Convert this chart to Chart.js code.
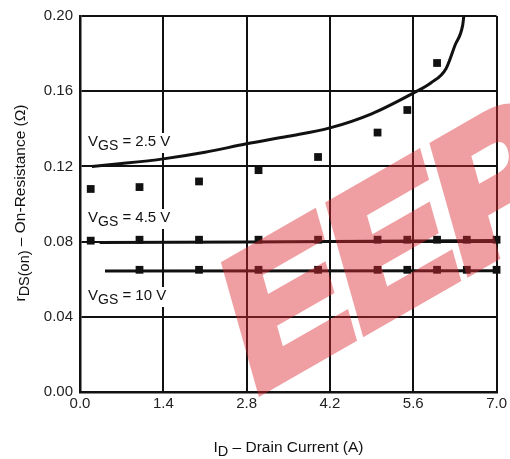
<!DOCTYPE html>
<html>
<head>
<meta charset="utf-8">
<script src="https://cdn.jsdelivr.net/npm/chart.js@4"></script>
<style>
  html, body { margin: 0; padding: 0; background: #fff; }
  #wrap { width: 510px; height: 459px; }
</style>
</head>
<body>
<div id="wrap"><canvas id="rdsChart" width="510" height="459"></canvas></div>
<script>
// tick labels
var xTicks = [ 0.0, 1.4, 2.8, 4.2, 5.6, 7.0 ];
var yTicks = [ 0.00, 0.04, 0.08, 0.12, 0.16, 0.20 ];

// VGS = 2.5 V fitted curve and measured points
var curve25X = [ 0.2, 0.7, 1.4, 2.1, 2.8, 3.5, 4.2, 4.9, 5.6, 5.9, 6.15, 6.3, 6.43, 6.45 ];
var curve25Y = [ 0.120, 0.1215, 0.124, 0.1275, 0.132, 0.136, 0.1405, 0.148, 0.159, 0.1645, 0.172, 0.1843, 0.195, 0.200 ];
var pts25X = [ 0.18, 1.0, 2.0, 3.0, 4.0, 5.0, 5.5, 6.0 ];
var pts25Y = [ 0.108, 0.109, 0.112, 0.118, 0.125, 0.138, 0.150, 0.175 ];

// VGS = 4.5 V
var curve45X = [ 0.33, 2.8, 7.0 ];
var curve45Y = [ 0.0795, 0.0798, 0.0806 ];
var pts45X = [ 0.18, 1.0, 2.0, 3.0, 4.0, 5.0, 5.5, 6.0, 6.5, 7.0 ];
var pts45Y = [ 0.0805, 0.081, 0.081, 0.081, 0.081, 0.081, 0.081, 0.081, 0.081, 0.081 ];

// VGS = 10 V
var curve10X = [ 0.42, 7.0 ];
var curve10Y = [ 0.0643, 0.0645 ];
var pts10X = [ 1.0, 2.0, 3.0, 4.0, 5.0, 5.5, 6.0, 6.5, 7.0 ];
var pts10Y = [ 0.065, 0.065, 0.065, 0.065, 0.065, 0.065, 0.065, 0.065, 0.065 ];

function toPoints ( xs, ys )
{
    return xs.map( function ( x, i ) { return { x: x, y: ys[ i ] }; } );
}

var FONT = '"Liberation Sans", Arial, sans-serif';

// text with subscripts: parts = [ [text, isSub], ... ]
function drawParts ( ctx, parts, x, y, size )
{
    var cx = x;
    parts.forEach( function ( p )
    {
        ctx.font = ( p[ 1 ] ? size - 1 : size ) + 'px ' + FONT;
        ctx.fillText( p[ 0 ], cx, p[ 1 ] ? y + 4 : y );
        cx += ctx.measureText( p[ 0 ] ).width;
    } );
    return cx - x;
}

function partsWidth ( ctx, parts, size )
{
    var w = 0;
    parts.forEach( function ( p )
    {
        ctx.font = ( p[ 1 ] ? size - 1 : size ) + 'px ' + FONT;
        w += ctx.measureText( p[ 0 ] ).width;
    } );
    return w;
}

var curveLabels = [
    { parts: [ [ 'V', false ], [ 'GS', true ], [ ' = 2.5 V', false ] ], x: 88, y: 146 },
    { parts: [ [ 'V', false ], [ 'GS', true ], [ ' = 4.5 V', false ] ], x: 88, y: 222 },
    { parts: [ [ 'V', false ], [ 'GS', true ], [ ' = 10 V', false ] ], x: 88, y: 300 }
];

var labelPlugin = {
    id: 'labels',
    beforeDatasetsDraw: function ( chart )
    {
        var ctx = chart.ctx;
        ctx.save();
        curveLabels.forEach( function ( l )
        {
            var w = partsWidth( ctx, l.parts, 15 );
            ctx.fillStyle = '#fff';
            ctx.fillRect( l.x - 2, l.y - 13, w + 4, 20 );
            ctx.fillStyle = '#111';
            ctx.textBaseline = 'alphabetic';
            drawParts( ctx, l.parts, l.x, l.y, 15 );
        } );
        ctx.restore();
    },
    afterDraw: function ( chart )
    {
        var ctx = chart.ctx;
        ctx.save();
        ctx.fillStyle = '#111';
        ctx.textBaseline = 'alphabetic';

        // x axis title
        var xParts = [ [ 'I', false ], [ 'D', true ], [ ' \u2013 Drain Current (A)', false ] ];
        var xw = partsWidth( ctx, xParts, 15.5 );
        drawParts( ctx, xParts, 288.5 - xw / 2, 452, 15.5 );

        // y axis title
        var yParts = [ [ 'r', false ], [ 'DS(on)', true ], [ ' \u2013 On-Resistance (\u03A9)', false ] ];
        var yw = partsWidth( ctx, yParts, 15.5 );
        ctx.translate( 25, 203 );
        ctx.rotate( -Math.PI / 2 );
        drawParts( ctx, yParts, -yw / 2, 0, 15.5 );
        ctx.restore();

        // watermark, drawn opaque off-screen then blended once
        var off = document.createElement( 'canvas' );
        off.width = chart.width;
        off.height = chart.height;
        var octx = off.getContext( '2d' );
        octx.fillStyle = 'rgb(220, 40, 50)';
        octx.strokeStyle = 'rgb(220, 40, 50)';
        octx.lineWidth = 12;
        octx.lineJoin = 'miter';
        octx.translate( 252, 394 );
        octx.rotate( -0.52 );
        octx.transform( 1, 0, -0.25, 1, 0, 0 );
        octx.font = 'bold 180px ' + FONT;
        octx.textBaseline = 'alphabetic';
        octx.strokeText( 'EEPW', 0, 0 );
        octx.fillText( 'EEPW', 0, 0 );

        ctx.save();
        ctx.globalAlpha = 0.45;
        ctx.drawImage( off, 0, 0 );
        ctx.restore();
    }
};

var lineStyle = { showLine: true, borderColor: '#111', borderWidth: 3, pointRadius: 0, fill: false };
var dotStyle = { showLine: false, backgroundColor: '#111', borderColor: '#111', pointStyle: 'rect', pointRadius: 5.5, borderWidth: 0 };

document.addEventListener( 'DOMContentLoaded', function ()
{
    var canvas = document.getElementById( 'rdsChart' );

    new Chart( canvas.getContext( '2d' ), {
        type: 'scatter',
        data: {
            datasets: [
                Object.assign( { data: toPoints( curve25X, curve25Y ), tension: 0.4, cubicInterpolationMode: 'monotone' }, lineStyle ),
                Object.assign( { data: toPoints( curve45X, curve45Y ) }, lineStyle ),
                Object.assign( { data: toPoints( curve10X, curve10Y ) }, lineStyle ),
                Object.assign( { data: toPoints( pts25X, pts25Y ) }, dotStyle ),
                Object.assign( { data: toPoints( pts45X, pts45Y ) }, dotStyle ),
                Object.assign( { data: toPoints( pts10X, pts10Y ) }, dotStyle )
            ]
        },
        options: {
            responsive: false,
            animation: false,
            clip: false,
            layout: { padding: { left: 0, right: 11, top: 15, bottom: 0 } },
            plugins: { legend: { display: false }, tooltip: { enabled: false } },
            scales: {
                x: {
                    type: 'linear',
                    min: 0,
                    max: 7,
                    afterBuildTicks: function ( scale )
                    {
                        scale.ticks = xTicks.map( function ( v ) { return { value: v }; } );
                    },
                    afterFit: function ( scale ) { scale.height = 67; },
                    ticks: {
                        padding: 3,
                        color: '#222',
                        font: { family: FONT, size: 15 },
                        callback: function ( v ) { return Number( v ).toFixed( 1 ); }
                    },
                    grid: { color: '#111', lineWidth: 2, drawTicks: false },
                    border: { color: '#111', width: 2.5 }
                },
                y: {
                    type: 'linear',
                    min: 0,
                    max: 0.2,
                    afterBuildTicks: function ( scale )
                    {
                        scale.ticks = yTicks.map( function ( v ) { return { value: v }; } );
                    },
                    afterFit: function ( scale ) { scale.width = 80; },
                    ticks: {
                        padding: 7,
                        color: '#222',
                        font: { family: FONT, size: 15 },
                        callback: function ( v ) { return Number( v ).toFixed( 2 ); }
                    },
                    grid: { color: '#111', lineWidth: 2, drawTicks: false },
                    border: { color: '#111', width: 2.5 }
                }
            }
        },
        plugins: [ labelPlugin ]
    } );
} );
</script>
</body>
</html>
